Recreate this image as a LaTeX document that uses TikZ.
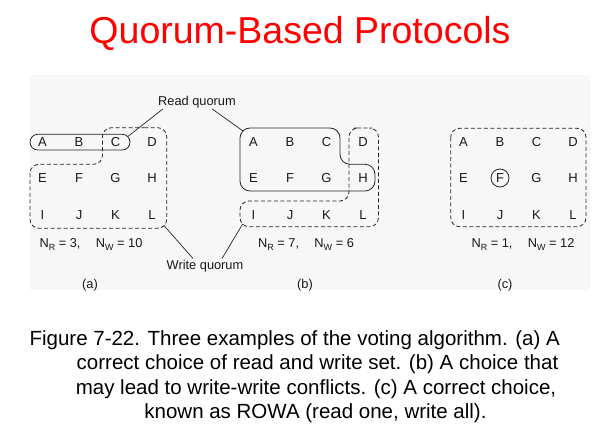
\documentclass[tikz,border=0pt]{standalone}
\usepackage{fontspec}
\setmainfont{Liberation Sans}

% subscript for N_R / N_W
\newcommand{\nsub}[1]{\raisebox{-0.45ex}{\fontsize{9}{9}\selectfont #1}}

\begin{document}
\begin{tikzpicture}[x=1pt, y=-1pt,
    site/.style={font=\fontsize{13}{15}\selectfont, text=black!90, inner sep=0pt, text height=9.4pt, text depth=0pt},
    lbl/.style={font=\fontsize{12.8}{15}\selectfont, text=black!90, inner sep=1pt},
    capline/.style={font=\fontsize{20.5}{24}\selectfont, text=black, inner sep=0pt},
    readq/.style={draw=black!85, line width=0.8pt, rounded corners=10pt},
    writeq/.style={draw=black!85, line width=0.8pt, dash pattern=on 4pt off 2.5pt, rounded corners=9pt},
    leader/.style={draw=black!85, line width=0.7pt}]
    \useasboundingbox (0,0) rectangle (600,431);
    \fill[black!3] (30,75) rectangle (590,290);

    % =========================================================
    % TITLE
    % =========================================================
    \node[font=\fontsize{37.5}{40}\selectfont, text=red, anchor=base] (title) at (300,43) {Quorum-Based Protocols};

    % =========================================================
    % THE THREE GRIDS OF SITES
    % =========================================================
    \foreach \p/\xo in {a/42.5, b/253.5, c/463.5}
      \foreach \l [count=\k from 0] in {A,B,C,D,E,F,G,H,I,J,K,L} {
        \pgfmathsetmacro\cx{\xo+36.5*mod(\k,4)}
        \pgfmathsetmacro\cy{141.5+36.5*floor(\k/4)}
        \node[site] (\p\l) at (\cx,\cy) {\l};
      }

    % =========================================================
    % CASE (a)
    % =========================================================
    % read quorum A B C
    \draw[readq, rounded corners=7.8pt] (30,134.3) rectangle (130,150);
    % write quorum C ... L
    \draw[writeq] (135,127.7) -- (166.7,127.7) -- (166.7,228.3) -- (30,228.3)
        -- (30,164.3) -- (102.5,164.3) -- (102.5,127.7) -- cycle;
    \coordinate (ra) at (127.7,136.6);
    \coordinate (wa) at (164.1,225.7);
    \node[lbl, anchor=base] (na) at (91,247) {N\nsub{R} = 3,\hspace{1.2em}N\nsub{W} = 10};
    \node[lbl] (taga) at (90,285) {(a)};

    % =========================================================
    % CASE (b)
    % =========================================================
    % read quorum A B C E F G H
    \draw[readq] (290,128) -- (340,128) -- (340,164.3) -- (375,164.3)
        -- (375,191) -- (240,191) -- (240,128) -- cycle;
    % write quorum D H L I J K
    \draw[writeq] (363,128) -- (378.5,128) -- (378.5,226.7) -- (240,226.7)
        -- (240,201) -- (349,201) -- (349,128) -- cycle;
    \coordinate (rb) at (242.9,130.9);
    \coordinate (wb) at (242.6,224.1);
    \node[lbl, anchor=base] (nb) at (306,247) {N\nsub{R} = 7,\hspace{1.2em}N\nsub{W} = 6};
    \node[lbl] (tagb) at (305,285) {(b)};

    % =========================================================
    % CASE (c) -- ROWA
    % =========================================================
    \draw[writeq] (450.7,128.3) rectangle (586,226.7);
    \draw[readq] (cF.center) circle[radius=9];
    \node[lbl, anchor=base] (nc) at (523,247) {N\nsub{R} = 1,\hspace{1.2em}N\nsub{W} = 12};
    \node[lbl] (tagc) at (505,285) {(c)};

    % =========================================================
    % LABELS AND LEADERS
    % =========================================================
    \node[lbl, anchor=base] (rq) at (197,105) {Read quorum};
    \node[lbl, anchor=base] (wq) at (205,269) {Write quorum};
    \draw[leader] (ra) -- ([xshift=-34pt]rq.south);
    \draw[leader] (rb) -- ([xshift=15pt]rq.south);
    \draw[leader] (wa) -- ([xshift=-12pt]wq.north);
    \draw[leader] (wb) -- ([xshift=17pt]wq.north);

    % =========================================================
    % CAPTION
    % =========================================================
    \node[capline, anchor=base east] (cap1) at (560,345) {Figure 7-22. Three examples of the voting algorithm. (a) A};
    \node[capline, anchor=base] (cap2) at (317.5,369.5) {correct choice of read and write set. (b) A choice that};
    \node[capline, anchor=base] (cap3) at (316,394) {may lead to write-write conflicts. (c) A correct choice,};
    \node[capline, anchor=base] (cap4) at (315.5,418.5) {known as ROWA (read one, write all).};
\end{tikzpicture}
\end{document}
